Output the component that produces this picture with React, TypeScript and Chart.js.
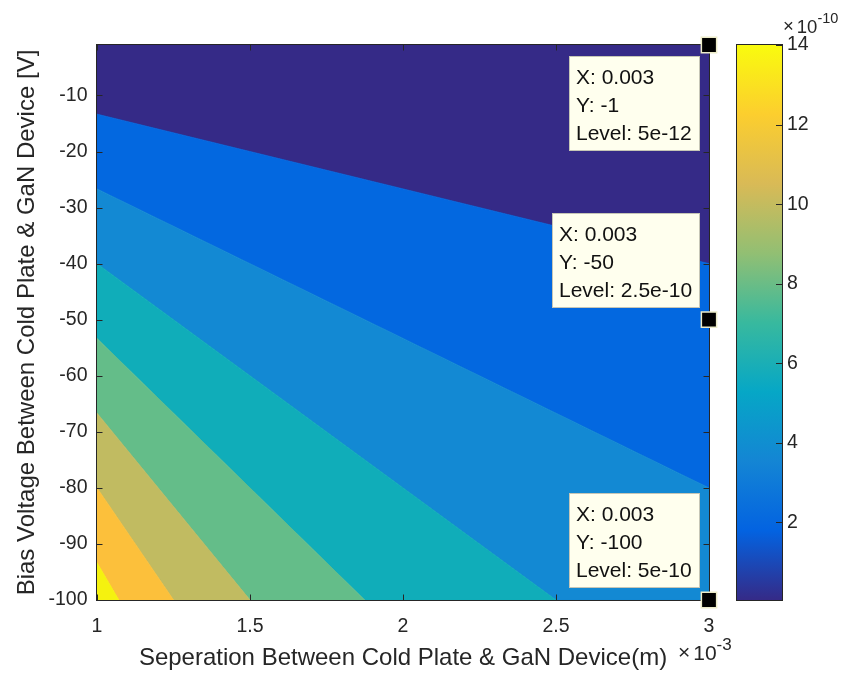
import React, { useEffect, useRef } from "react";
import { Chart, registerables } from "chart.js";

Chart.register(...registerables);

// Separation between cold plate and device (axis unit: 1e-3 m)
const separationTicks = [1, 1.5, 2, 2.5, 3];
const separationRange = [1, 3];
// Bias voltage (V)
const voltageTicks = [-100, -90, -80, -70, -60, -50, -40, -30, -20, -10];
const voltageRange = [-100, -1];
// Filled contour levels (unit: 1e-10) and the colour of each band
const contourLevels = [0, 2, 4, 6, 8, 10, 12, 14];
const bandColors = ["#352a87", "#0368e0", "#1389d3", "#10adb9", "#64bd89", "#c1bb61", "#fcc03b", "#f5f20f"];
// Colour bar (unit: 1e-10)
const colorbarTicks = [2, 4, 6, 8, 10, 12, 14];
const colorbarRange = [0.05, 14];
const parulaStops = ["#352a87", "#0363e1", "#1485d4", "#06a7c6", "#38b99e", "#92bf73", "#d9ba56", "#fcce2e", "#f9fb0e"];
// Data tips
const tipSeparation = [0.003, 0.003, 0.003];
const tipVoltage = [-1, -50, -100];
const tipLevel = [5e-12, 2.5e-10, 5e-10];

const FONT = "'Liberation Sans', Arial, Helvetica, sans-serif";
const INK = "#262626";
const TICK_FONT = 19.5;

// Level = K * |V| / d ; K follows from the data tips
const FIELD_K = (tipLevel[0] * tipSeparation[0]) / Math.abs(tipVoltage[0]);
// level >= L  <=>  -V >= slope(L) * x   (x in 1e-3 m, L in 1e-10)
const slopeFor = (L: number) => (L * 1e-10 * 1e-3) / FIELD_K;

type P = { x: number; y: number };

function clipHalfPlane(poly: P[], g: (p: P) => number): P[] {
  const out: P[] = [];
  for (let i = 0; i < poly.length; i++) {
    const a = poly[i];
    const b = poly[(i + 1) % poly.length];
    const ga = g(a);
    const gb = g(b);
    if (ga >= 0) out.push(a);
    if (ga >= 0 !== gb >= 0) {
      const t = ga / (ga - gb);
      out.push({ x: a.x + t * (b.x - a.x), y: a.y + t * (b.y - a.y) });
    }
  }
  return out;
}

function bandPolygon(i: number): P[] {
  const [x0, x1] = separationRange;
  const [y0, y1] = voltageRange;
  let poly: P[] = [
    { x: x0, y: y1 },
    { x: x1, y: y1 },
    { x: x1, y: y0 },
    { x: x0, y: y0 },
  ];
  const lo = slopeFor(contourLevels[i]);
  poly = clipHalfPlane(poly, (p) => -p.y - lo * p.x);
  if (i + 1 < contourLevels.length) {
    const hi = slopeFor(contourLevels[i + 1]);
    poly = clipHalfPlane(poly, (p) => p.y + hi * p.x);
  }
  return poly;
}

// "×10^exp" multiplier label
function drawExponent(
  ctx: CanvasRenderingContext2D,
  x: number,
  baseline: number,
  exp: string,
  size: number,
  supSize: number,
  rise: number
) {
  ctx.save();
  ctx.fillStyle = INK;
  ctx.textAlign = "left";
  ctx.textBaseline = "alphabetic";
  ctx.font = `${size}px ${FONT}`;
  ctx.fillText("\u00d7", x, baseline - 1);
  let cx = x + ctx.measureText("\u00d7").width + 3;
  ctx.fillText("10", cx, baseline);
  cx += ctx.measureText("10").width;
  ctx.font = `${supSize}px ${FONT}`;
  ctx.fillText(exp, cx, baseline - rise);
  ctx.restore();
}

// keep tick-label overhang from pushing the plot area around
const noOverhang = (s: any) => {
  s.paddingTop = 0;
  s.paddingBottom = 0;
  s.paddingLeft = 0;
  s.paddingRight = 0;
};

const contourPlugin = {
  id: "contourBands",
  beforeDatasetsDraw(chart: any) {
    const { ctx, chartArea: a, scales } = chart;
    ctx.save();
    ctx.beginPath();
    ctx.rect(a.left, a.top, a.right - a.left, a.bottom - a.top);
    ctx.clip();
    chart.data.datasets.forEach((ds: any, i: number) => {
      if (!String(ds.label).startsWith("band")) return;
      const pts = chart.getDatasetMeta(i).data;
      if (!pts.length) return;
      ctx.beginPath();
      pts.forEach((p: any, j: number) => (j ? ctx.lineTo(p.x, p.y) : ctx.moveTo(p.x, p.y)));
      ctx.closePath();
      ctx.fillStyle = ds.backgroundColor;
      ctx.fill();
      ctx.strokeStyle = ds.backgroundColor;
      ctx.lineWidth = 0.8;
      ctx.stroke();
    });
    ctx.restore();

    // axes box and inward ticks
    ctx.save();
    ctx.strokeStyle = INK;
    ctx.lineWidth = 1;
    const L = Math.round(a.left) - 0.5;
    const R = Math.round(a.right) + 0.5;
    const T = Math.round(a.top) - 0.5;
    const B = Math.round(a.bottom) + 0.5;
    ctx.strokeRect(L, T, R - L, B - T);
    ctx.beginPath();
    const tl = 6;
    scales.x.ticks.forEach((t: any) => {
      const px = Math.round(scales.x.getPixelForValue(t.value)) + 0.5;
      ctx.moveTo(px, B);
      ctx.lineTo(px, B - tl);
      ctx.moveTo(px, T);
      ctx.lineTo(px, T + tl);
    });
    scales.y.ticks.forEach((t: any) => {
      const py = Math.round(scales.y.getPixelForValue(t.value)) + 0.5;
      ctx.moveTo(L, py);
      ctx.lineTo(L + tl, py);
      ctx.moveTo(R, py);
      ctx.lineTo(R - tl, py);
    });
    ctx.stroke();
    ctx.restore();
  },
  afterDatasetsDraw(chart: any) {
    const { ctx, chartArea: a, scales } = chart;

    // data tip boxes
    const tipsIndex = chart.data.datasets.findIndex((d: any) => d.label === "tips");
    const meta = chart.getDatasetMeta(tipsIndex);
    ctx.save();
    ctx.font = `21px ${FONT}`;
    meta.data.forEach((pt: any, i: number) => {
      const lines = [`X: ${tipSeparation[i]}`, `Y: ${tipVoltage[i]}`, `Level: ${tipLevel[i]}`];
      const w = Math.round(Math.max(...lines.map((l) => ctx.measureText(l).width)) + 15);
      const h = 95;
      const right = Math.round(pt.x) - 9;
      const below = tipVoltage[i] >= voltageRange[1];
      const top = Math.round(below ? pt.y + 11 : pt.y - 12 - h);
      const left = right - w;
      ctx.fillStyle = "#ffffee";
      ctx.fillRect(left, top, w, h);
      ctx.strokeStyle = "#c6c6b6";
      ctx.lineWidth = 1;
      ctx.strokeRect(left + 0.5, top + 0.5, w - 1, h - 1);
      ctx.fillStyle = "#111111";
      ctx.textAlign = "left";
      ctx.textBaseline = "middle";
      lines.forEach((l, j) => ctx.fillText(l, left + 7, top + 22 + 28 * j));
    });
    ctx.restore();

    // colour bar
    const cb = scales.cb;
    const cx0 = Math.round(a.right) + 28;
    const cx1 = Math.round(a.right) + 73;
    const cyTop = cb.getPixelForValue(colorbarRange[1]);
    const cyBot = cb.getPixelForValue(colorbarRange[0]);
    ctx.save();
    const grad = ctx.createLinearGradient(0, cyBot, 0, cyTop);
    parulaStops.forEach((c, i) => grad.addColorStop(i / (parulaStops.length - 1), c));
    ctx.fillStyle = grad;
    ctx.fillRect(cx0, cyTop, cx1 - cx0, cyBot - cyTop);
    ctx.strokeStyle = INK;
    ctx.lineWidth = 1;
    ctx.strokeRect(cx0 - 0.5, Math.round(cyTop) - 0.5, cx1 - cx0 + 1, Math.round(cyBot) - Math.round(cyTop) + 1);
    ctx.beginPath();
    colorbarTicks.forEach((v) => {
      const py = Math.round(cb.getPixelForValue(v)) + 0.5;
      ctx.moveTo(cx1, py);
      ctx.lineTo(cx1 - 6, py);
    });
    ctx.stroke();
    ctx.restore();

    // axis multipliers
    drawExponent(ctx, Math.round(a.right) - 31, Math.round(a.bottom) + 60, "-3", 21, 17, 10);
    drawExponent(ctx, cx1 + 1, Math.round(a.top) - 12, "-10", 18.5, 14.5, 10);
  },
};

export default function App() {
  const ref = useRef<HTMLCanvasElement>(null);

  useEffect(() => {
    const bandSets = contourLevels.map((_, i) => ({
      label: `band${i}`,
      data: bandPolygon(i),
      backgroundColor: bandColors[i],
      borderColor: bandColors[i],
      pointRadius: 0,
      pointHoverRadius: 0,
      showLine: false,
      order: 2,
    }));
    const tipSet = {
      label: "tips",
      data: tipSeparation.map((d, i) => ({ x: d * 1e3, y: tipVoltage[i] })),
      pointStyle: "rect",
      pointRadius: 10.8,
      pointHoverRadius: 10.8,
      backgroundColor: "#000000",
      borderColor: "#ecebc8",
      borderWidth: 1.5,
      clip: false,
      order: 0,
    };

    const tickFont = { family: FONT, size: TICK_FONT };
    const titleFont = { family: FONT, size: 24 };
    const hiddenGrid = { display: false, drawTicks: false, tickLength: 0 };

    const chart = new Chart(ref.current as HTMLCanvasElement, {
      type: "scatter",
      data: { datasets: [tipSet as any, ...bandSets] },
      options: {
        animation: false,
        responsive: false,
        devicePixelRatio: 1,
        events: [],
        layout: { autoPadding: false, padding: { top: 45, right: 0, bottom: 0, left: 0 } },
        plugins: { legend: { display: false }, tooltip: { enabled: false } },
        scales: {
          x: {
            type: "linear",
            position: "bottom",
            min: separationRange[0],
            max: separationRange[1],
            grid: hiddenGrid,
            border: { display: false },
            afterBuildTicks: (s: any) => {
              s.ticks = separationTicks.map((v) => ({ value: v }));
            },
            afterFit: (s: any) => {
              s.height = 77;
              noOverhang(s);
            },
            ticks: {
              font: tickFont,
              color: INK,
              padding: 15,
              maxRotation: 0,
              callback: (v: any) => String(v),
            },
            title: {
              display: true,
              text: "Seperation Between Cold Plate & GaN Device(m)",
              font: titleFont,
              color: INK,
              padding: { top: 0, bottom: 4 },
            },
          },
          y: {
            type: "linear",
            position: "left",
            min: voltageRange[0],
            max: voltageRange[1],
            grid: hiddenGrid,
            border: { display: false },
            afterBuildTicks: (s: any) => {
              s.ticks = voltageTicks.map((v) => ({ value: v }));
            },
            afterFit: (s: any) => {
              s.width = 97;
              noOverhang(s);
            },
            ticks: {
              font: tickFont,
              color: INK,
              padding: 9.5,
              callback: (v: any) => String(v),
            },
            title: {
              display: true,
              text: "Bias Voltage Between Cold Plate & GaN Device [V]",
              font: titleFont,
              color: INK,
              padding: { top: 13, bottom: 0 },
            },
          },
          cb: {
            type: "linear",
            axis: "y",
            position: "right",
            min: colorbarRange[0],
            max: colorbarRange[1],
            grid: hiddenGrid,
            border: { display: false },
            afterBuildTicks: (s: any) => {
              s.ticks = colorbarTicks.map((v) => ({ value: v }));
            },
            afterFit: (s: any) => {
              s.width = 139;
              noOverhang(s);
            },
            ticks: {
              font: tickFont,
              color: INK,
              padding: 78,
              callback: (v: any) => String(v),
            },
          },
        } as any,
      },
      plugins: [contourPlugin],
    });
    return () => chart.destroy();
  }, []);

  return (
    <div style={{ position: "fixed", left: 0, top: 0, width: 848, height: 677, background: "#ffffff" }}>
      <canvas ref={ref} width={848} height={677} style={{ width: 848, height: 677, display: "block" }} />
    </div>
  );
}
